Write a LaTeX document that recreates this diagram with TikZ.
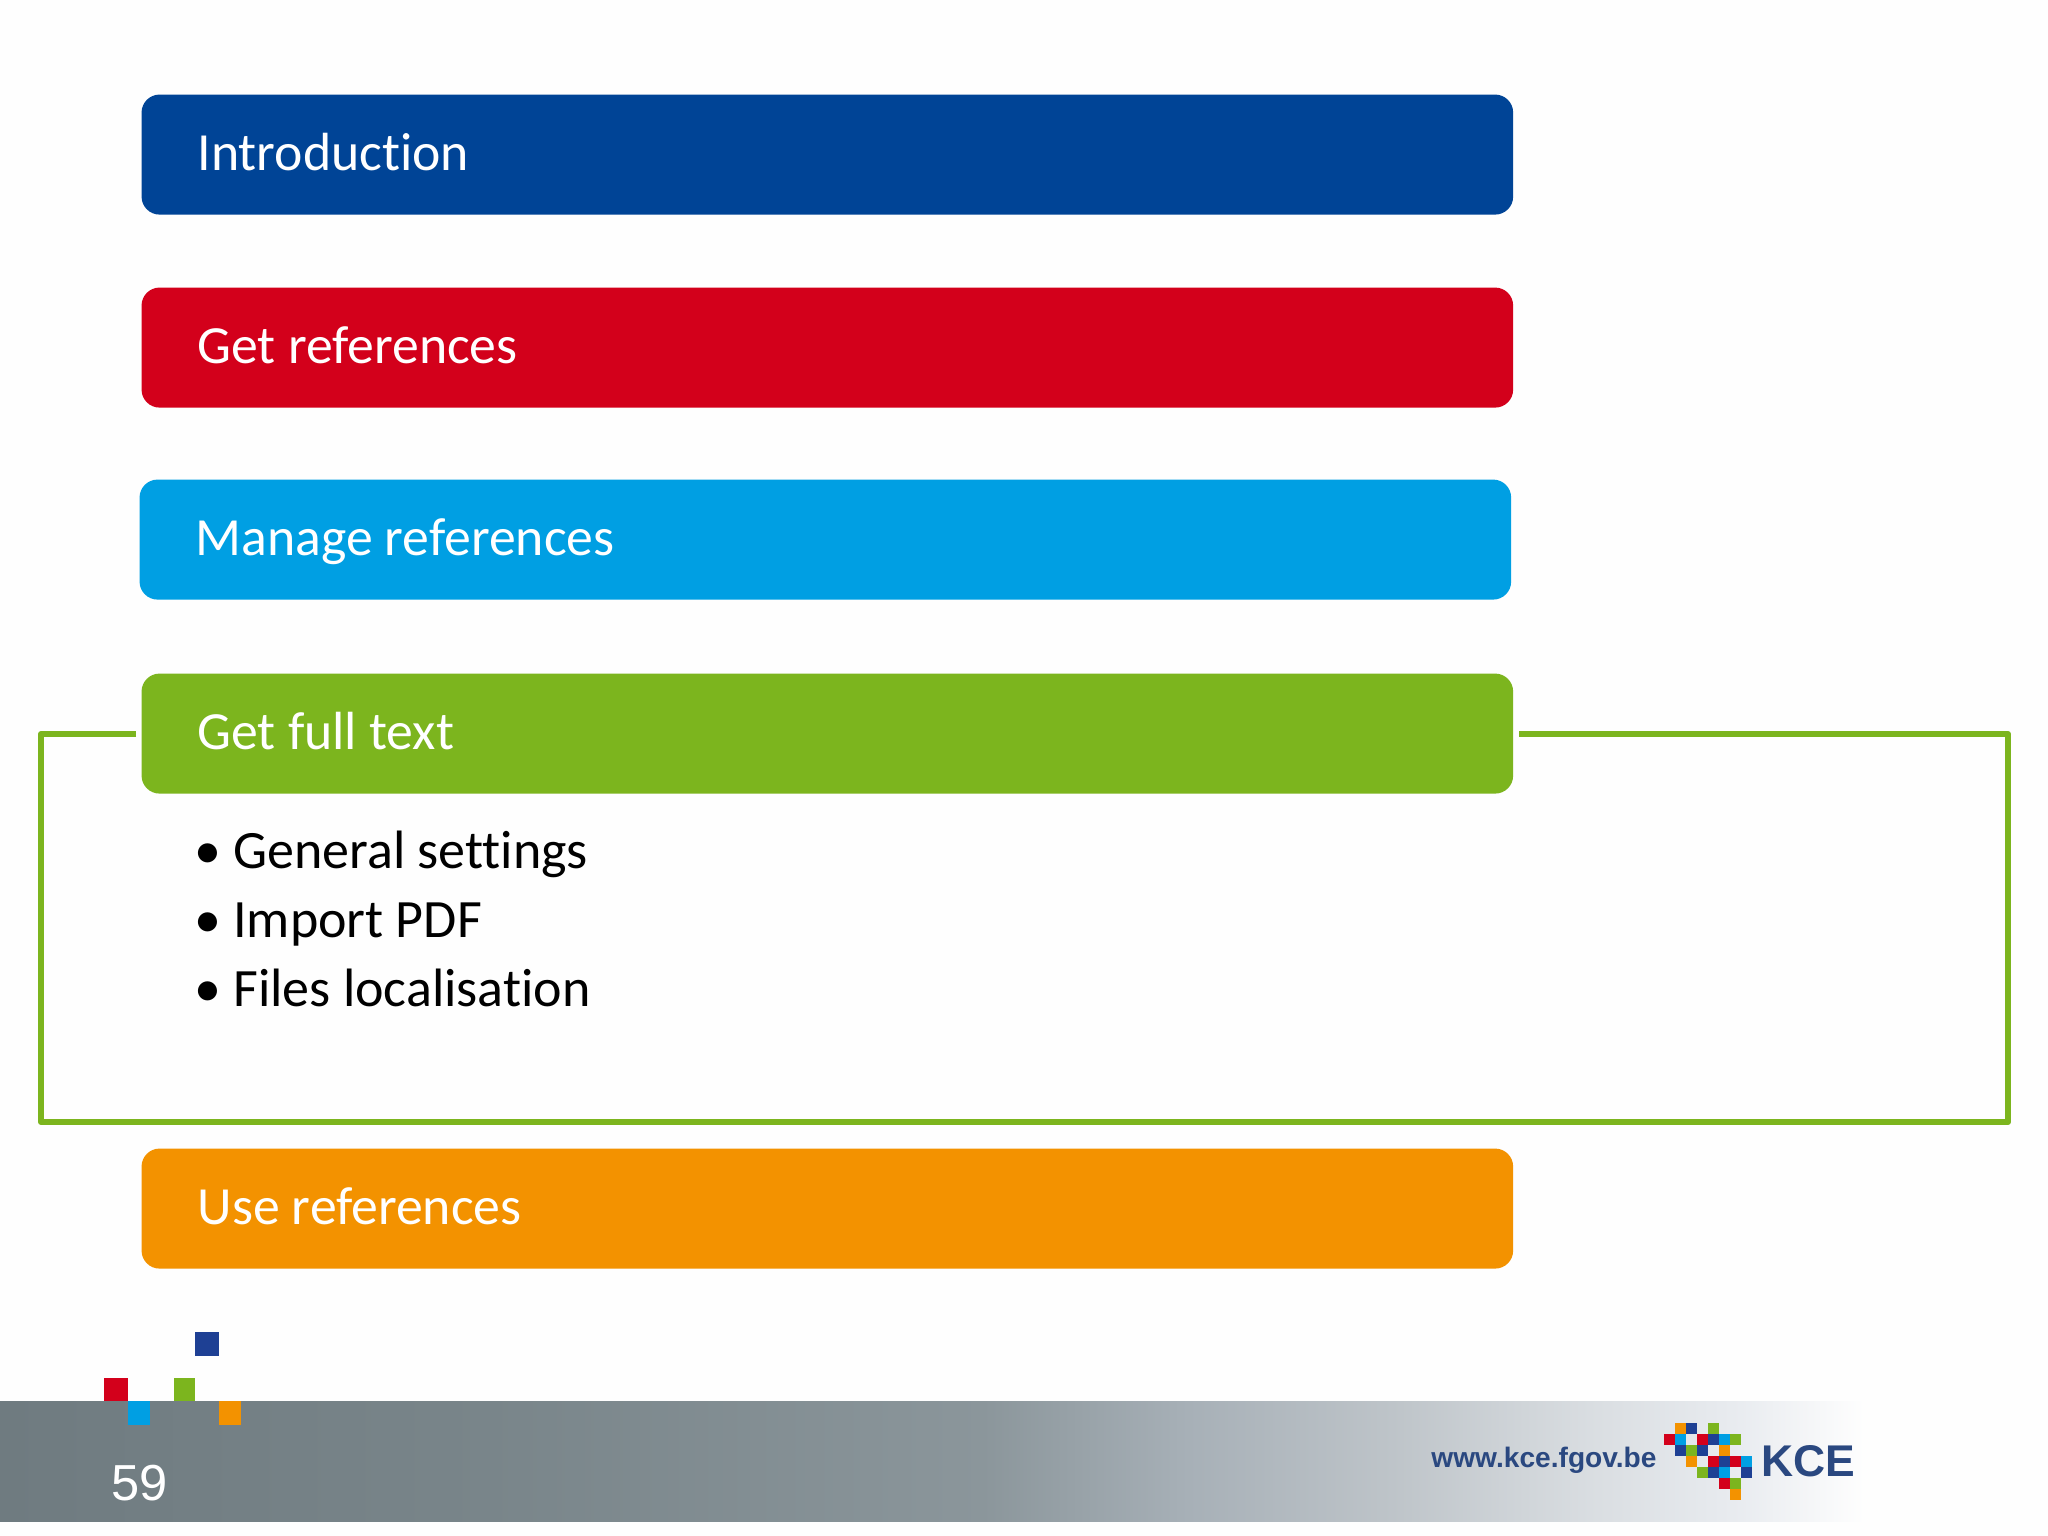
\documentclass[tikz,border=0pt]{standalone}
\usepackage{fontspec}
\setmainfont{Carlito}[Ligatures=NoCommon]
\newfontfamily\arialfont{Liberation Sans}
\definecolor{kceblue}{RGB}{0,68,150}
\definecolor{kcered}{RGB}{211,0,27}
\definecolor{kcecyan}{RGB}{0,159,227}
\definecolor{kcegreen}{RGB}{124,181,30}
\definecolor{kceorange}{RGB}{243,146,0}
\definecolor{kcenavy}{RGB}{30,64,148}
\definecolor{kceink}{RGB}{42,72,128}
\definecolor{kcepage}{RGB}{254,254,254}
\pgfdeclarehorizontalshading{FooterShade}{100bp}{
    rgb(0bp)=(0.435,0.482,0.502);
    rgb(25bp)=(0.435,0.482,0.502);
    rgb(37bp)=(0.475,0.522,0.541);
    rgb(49bp)=(0.545,0.588,0.608);
    rgb(54bp)=(0.655,0.690,0.718);
    rgb(59bp)=(0.745,0.769,0.788);
    rgb(64bp)=(0.855,0.871,0.886);
    rgb(67.5bp)=(0.914,0.925,0.941);
    rgb(70.5bp)=(0.996,0.996,0.996);
    rgb(100bp)=(0.996,0.996,0.996)}
\newcommand{\BulletItem}[1]{\makebox[0.484cm][l]{\textbullet}#1}

\begin{document}
\begin{tikzpicture}[x=0.0125cm, y=-0.0125cm]
    \tikzset{TitleBox/.style={anchor=north west, rounded corners=0.225cm, text=white, align=flush left, inner xsep=0.7cm, inner ysep=0pt, text width=15.74cm, text height=0.95cm, text depth=0.55cm, font=\fontsize{19.1}{22}\selectfont}}
    \tikzset{ListItem/.style={anchor=base west, inner sep=0pt, text=black, font=\fontsize{19.2}{22}\selectfont}}
    \tikzset{Frame/.style={draw=kcegreen, line width=0.075cm, line join=round}}
    \useasboundingbox (0, 0) rectangle (2048, 1536);
    \fill[kcepage] (0, 0) rectangle (2048, 1536);

    \shade[shading=FooterShade] (0, 1401) rectangle (2048, 1521); % footer

    \node[TitleBox, fill=kceblue] (box-intro) at (141, 94) {Introduction};
    \node[TitleBox, fill=kcered] (box-get) at (141, 287) {Get references};
    \node[TitleBox, fill=kcecyan] (box-manage) at (139, 479) {Manage references};
    \node[TitleBox, fill=kcegreen] (box-full) at (141, 673) {Get full text};
    \node[TitleBox, fill=kceorange] (box-use) at (141, 1148) {Use references};

    \node[ListItem] (item-1) at (194, 868) {\BulletItem{General settings}};
    \node[ListItem] (item-2) at (194, 937) {\BulletItem{Import PDF}};
    \node[ListItem] (item-3) at (194, 1006) {\BulletItem{Files localisation}};

    \coordinate (frame-a) at (136, 734);
    \coordinate (frame-b) at (41, 734);
    \coordinate (frame-c) at (41, 1122);
    \coordinate (frame-d) at (2008, 1122);
    \coordinate (frame-e) at (2008, 734);
    \coordinate (frame-f) at (1519, 734);
    \draw[Frame] (frame-a) -- (frame-b) -- (frame-c) -- (frame-d) -- (frame-e) -- (frame-f);

    % squares over the band
    \fill[kcenavy] (195, 1332) rectangle (219, 1356);
    \fill[kcered] (104, 1378) rectangle (128, 1401);
    \fill[kcecyan] (128, 1401) rectangle (150, 1425);
    \fill[kcegreen] (174, 1378) rectangle (195, 1401);
    \fill[kceorange] (219, 1401) rectangle (241, 1425);

    \node[text=white, inner sep=0pt, font=\arialfont\fontsize{18}{20}\selectfont] (page-no) at (140, 1483) {59};

    \node[text=kceink, inner sep=0pt, font=\arialfont\bfseries\fontsize{10}{12}\selectfont] (web) at (1544, 1460) {www.kce.fgov.be};
    \node[text=kceink, inner sep=0pt, font=\arialfont\bfseries\fontsize{15.8}{20}\selectfont] (kce) at (1808, 1461) {KCE};

    % mosaic of the logo
    \foreach \col/\row/\tone in {1/0/kceorange, 2/0/kcenavy, 4/0/kcegreen,
        0/1/kcered, 1/1/kcecyan, 3/1/kcered, 4/1/kcenavy, 5/1/kcecyan, 6/1/kcegreen,
        1/2/kcenavy, 2/2/kcegreen, 3/2/kcenavy, 5/2/kceorange,
        2/3/kceorange, 4/3/kcered, 5/3/kcenavy, 6/3/kcered, 7/3/kcecyan,
        3/4/kcegreen, 4/4/kcenavy, 5/4/kcecyan, 7/4/kcenavy,
        5/5/kcered, 6/5/kcegreen, 6/6/kceorange}
        \fill[\tone] (1664 + 11 * \col, 1423 + 11 * \row) rectangle ++(11, 11);
\end{tikzpicture}
\end{document}
